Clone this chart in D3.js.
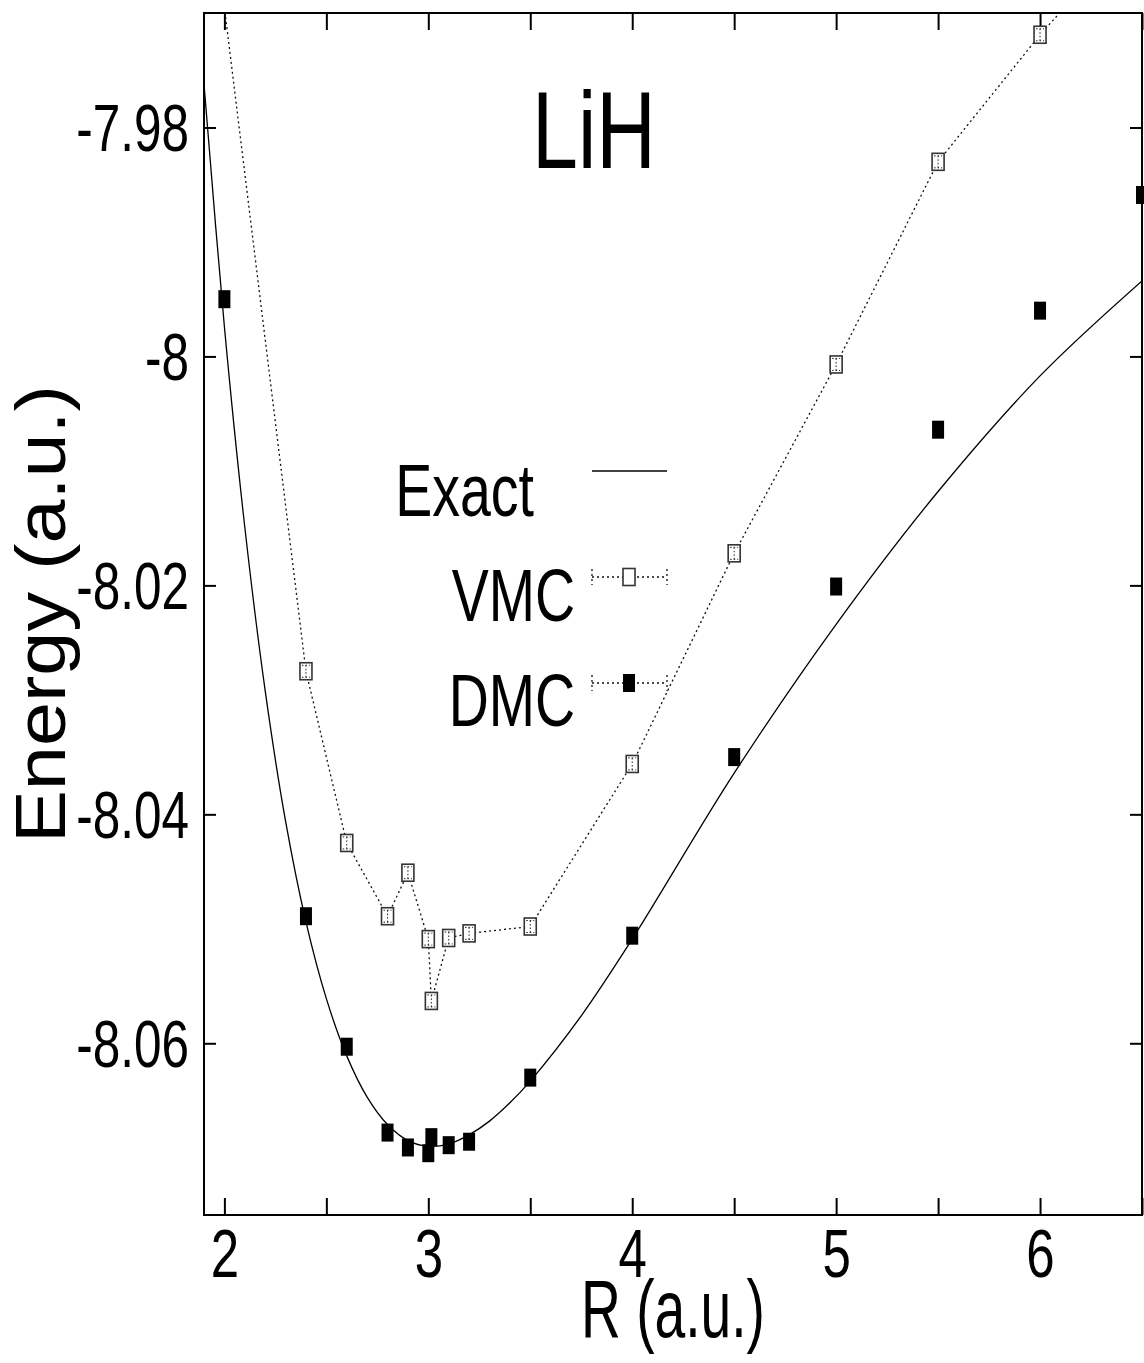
<!DOCTYPE html>
<html><head><meta charset="utf-8">
<script src="https://cdn.jsdelivr.net/npm/d3@7"></script>
<style>
body{margin:0;background:#fff}
svg{display:block;background:#fff}
text{font-family:"Liberation Sans",Arial,Helvetica,sans-serif;fill:#000}
</style>
</head><body>
<svg id="chart" width="1144" height="1363"></svg>
<script>
// ---- data ----
const dmcR = [2.0, 2.4, 2.6, 2.8, 2.9, 3.0, 3.015, 3.1, 3.2, 3.5, 4.0, 4.5, 5.0, 5.5, 6.0, 6.5];
const dmcE = [-7.9950, -8.0489, -8.0603, -8.0678, -8.0691, -8.0696, -8.0682, -8.0689, -8.0686, -8.0630, -8.0506, -8.0350, -8.0201, -8.0064, -7.9960, -7.9859];
const vmcR = [2.0, 2.4, 2.6, 2.8, 2.9, 3.0, 3.015, 3.1, 3.2, 3.5, 4.0, 4.5, 5.0, 5.5, 6.0, 6.5];
const vmcE = [-7.9695, -8.0275, -8.0425, -8.0489, -8.0451, -8.0509, -8.0563, -8.0508, -8.0504, -8.0498, -8.0356, -8.0172, -8.0007, -7.9830, -7.9719, -7.9620];
const exactR = [1.9, 2.0, 2.1, 2.2, 2.3, 2.4, 2.5, 2.6, 2.7, 2.8, 2.9, 3.0, 3.1, 3.2, 3.3, 3.4, 3.5, 3.75, 4.0, 4.5, 5.0, 5.5, 6.0, 6.5];
const exactE = [-7.9762, -7.9974, -8.0149, -8.0292, -8.0406, -8.0494, -8.0561, -8.0611, -8.0647, -8.0671, -8.0685, -8.0690, -8.0688, -8.0680, -8.0668, -8.0652, -8.0633, -8.0576, -8.0509, -8.0364, -8.0234, -8.0118, -8.0017, -7.9934];
const xTicks = [2, 2.5, 3, 3.5, 4, 4.5, 5, 5.5, 6, 6.5];
const xLabels = [2, 3, 4, 5, 6];
const yTicks = [-7.98, -8.0, -8.02, -8.04, -8.06];
const yLabels = ["-7.98", "-8", "-8.02", "-8.04", "-8.06"];
const legendNames = ["Exact", "VMC", "DMC"];
const titleText = "LiH";
const xTitle = "R (a.u.)";
const yTitle = "Energy (a.u.)";

// ---- layout ----
const L = 204, R = 1142, T = 13, B = 1215;
const x = d3.scaleLinear().domain([1.9, 6.5]).range([L, R]);
const y = d3.scaleLinear().domain([-8.075, -7.97]).range([B, T]);
const svg = d3.select("#chart");
const SX = 0.75;

svg.append("defs").append("clipPath").attr("id", "clip")
  .append("rect").attr("x", L).attr("y", T).attr("width", R - L).attr("height", B - T);

// axes (inward ticks)
function styleAxis(g) {
  g.select(".domain").remove();
  g.selectAll(".tick line").attr("stroke", "#000").attr("stroke-width", 2);
}
svg.append("g").attr("transform", `translate(0,${B})`)
  .call(d3.axisBottom(x).tickValues(xTicks).tickSize(-17).tickSizeOuter(0)
    .tickFormat(d => xLabels.includes(d) ? String(d) : ""))
  .call(styleAxis)
  .call(g => g.selectAll(".tick text")
    .attr("font-size", 68).attr("font-family", '"Liberation Sans",Arial,sans-serif')
    .attr("fill", "#000").attr("text-anchor", "middle")
    .attr("x", 0).attr("y", 0).attr("dy", 0)
    .attr("transform", `translate(0,62) scale(${SX},1)`));
svg.append("g").attr("transform", `translate(0,${T})`)
  .call(d3.axisTop(x).tickValues(xTicks).tickSize(-17).tickSizeOuter(0).tickFormat(""))
  .call(styleAxis);
svg.append("g").attr("transform", `translate(${L},0)`)
  .call(d3.axisLeft(y).tickValues(yTicks).tickSize(-12).tickSizeOuter(0)
    .tickFormat((d, i) => yLabels[i]))
  .call(styleAxis)
  .call(g => g.selectAll(".tick text")
    .attr("font-size", 66).attr("font-family", '"Liberation Sans",Arial,sans-serif')
    .attr("fill", "#000").attr("text-anchor", "end")
    .attr("x", 0).attr("y", 0).attr("dy", 0)
    .attr("transform", `translate(-15,23) scale(${SX},1)`));
svg.append("g").attr("transform", `translate(${R},0)`)
  .call(d3.axisRight(y).tickValues(yTicks).tickSize(-12).tickSizeOuter(0).tickFormat(""))
  .call(styleAxis);

// frame
svg.append("rect").attr("x", L).attr("y", T).attr("width", R - L).attr("height", B - T)
  .attr("fill", "none").attr("stroke", "#000").attr("stroke-width", 2);

// exact curve
const plot = svg.append("g").attr("clip-path", "url(#clip)");
const exactPts = exactR.map((r, i) => [r, exactE[i]]);
plot.append("path").datum(exactPts)
  .attr("d", d3.line().x(d => x(d[0])).y(d => y(d[1])).curve(d3.curveCatmullRom.alpha(0.5)))
  .attr("fill", "none").attr("stroke", "#000").attr("stroke-width", 1.3);

// VMC dotted line
const vmcPts = vmcR.map((r, i) => [r, vmcE[i]]);
plot.append("path").datum(vmcPts)
  .attr("d", d3.line().x(d => x(d[0])).y(d => y(d[1])))
  .attr("fill", "none").attr("stroke", "#111").attr("stroke-width", 1.3)
  .attr("stroke-dasharray", "2,3");

const inRange = d => d[1] <= -7.97 && d[1] >= -8.075;
const BW = 12, BH = 17;
function vmcBox(g, cx, cy, inner) {
  g.append("rect").attr("x", cx - BW / 2).attr("y", cy - BH / 2).attr("width", BW).attr("height", BH)
    .attr("fill", "#fff").attr("stroke", "#333").attr("stroke-width", 1.6);
  if (inner) {
    const dot = sel => sel.attr("stroke", "#222").attr("stroke-width", 1).attr("stroke-dasharray", "1.5,2");
    g.append("line").attr("x1", cx).attr("x2", cx).attr("y1", cy - 6).attr("y2", cy + 6).call(dot);
    g.append("line").attr("x1", cx - 4).attr("x2", cx + 4).attr("y1", cy - 6).attr("y2", cy - 6).call(dot);
    g.append("line").attr("x1", cx - 4).attr("x2", cx + 4).attr("y1", cy + 6).attr("y2", cy + 6).call(dot);
  }
}
const vmcG = svg.append("g");
vmcPts.filter(inRange).forEach(d => vmcBox(vmcG, x(d[0]), y(d[1]), true));

// DMC filled markers
const DW = 12, DH = 18;
const dmcPts = dmcR.map((r, i) => [r, dmcE[i]]);
svg.append("g").selectAll("rect").data(dmcPts.filter(inRange)).join("rect")
  .attr("x", d => x(d[0]) - DW / 2).attr("y", d => y(d[1]) - DH / 2)
  .attr("width", DW).attr("height", DH).attr("fill", "#000");

// title
svg.append("text").attr("transform", `translate(594,168) scale(${SX},1)`)
  .attr("text-anchor", "middle").attr("font-size", 110).text(titleText);

// legend
const legTextX = [534, 575, 575], legBase = [516, 621, 726], legLineY = [471, 577, 683];
const lg = svg.append("g");
legendNames.forEach((name, i) => {
  lg.append("text").attr("transform", `translate(${legTextX[i]},${legBase[i]}) scale(${SX},1)`)
    .attr("text-anchor", "end").attr("font-size", 74).text(name);
  const ly = legLineY[i];
  if (i === 0) {
    lg.append("line").attr("x1", 592).attr("x2", 667).attr("y1", ly).attr("y2", ly)
      .attr("stroke", "#000").attr("stroke-width", 1.3);
  } else {
    const dot = sel => sel.attr("stroke", "#111").attr("stroke-width", 1.3).attr("stroke-dasharray", "2,3");
    lg.append("line").attr("x1", 592).attr("x2", 667).attr("y1", ly).attr("y2", ly).call(dot);
    lg.append("line").attr("x1", 592).attr("x2", 592).attr("y1", ly - 8).attr("y2", ly + 8).call(dot);
    lg.append("line").attr("x1", 667).attr("x2", 667).attr("y1", ly - 8).attr("y2", ly + 8).call(dot);
    if (i === 1) vmcBox(lg, 629, ly, false);
    else lg.append("rect").attr("x", 629 - DW / 2).attr("y", ly - DH / 2).attr("width", DW).attr("height", DH).attr("fill", "#000");
  }
});

// axis titles
svg.append("text").attr("x", (L + R) / 2).attr("y", 1337).attr("text-anchor", "middle")
  .attr("font-size", 81).attr("textLength", 184).attr("lengthAdjust", "spacingAndGlyphs").text(xTitle);
svg.append("text").attr("transform", `translate(65,614) rotate(-90)`).attr("text-anchor", "middle")
  .attr("font-size", 70).attr("textLength", 458).attr("lengthAdjust", "spacingAndGlyphs").text(yTitle);
</script>
</body></html>
